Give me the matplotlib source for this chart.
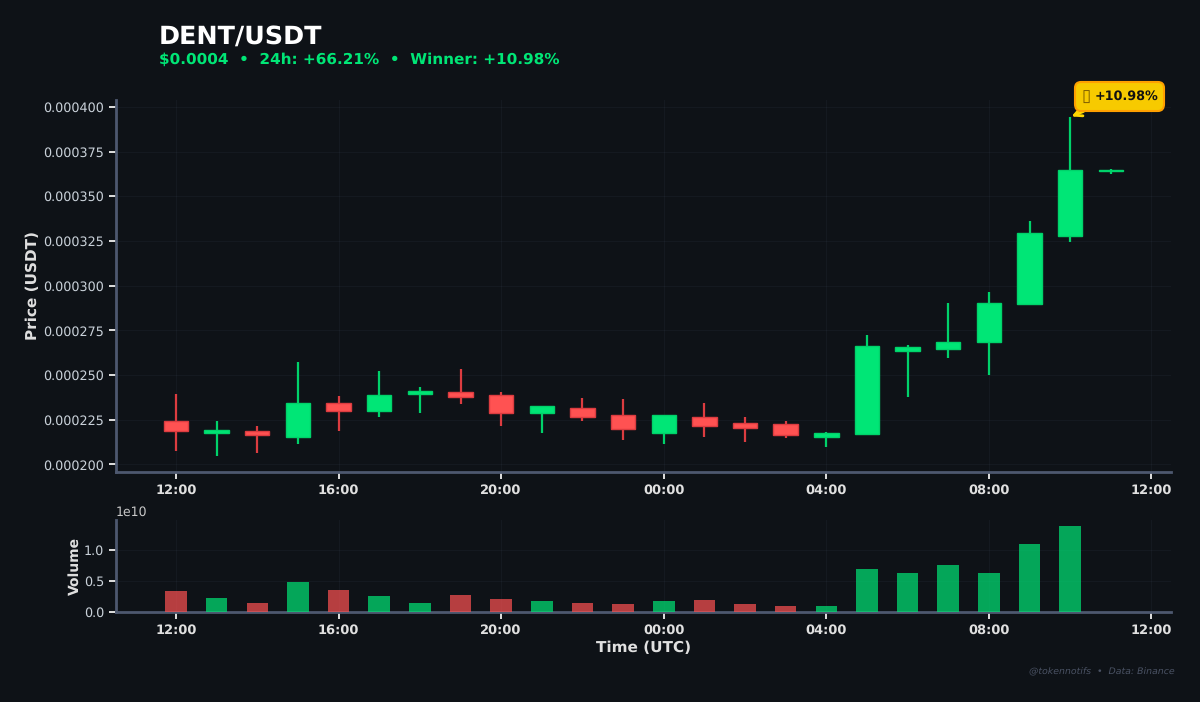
import matplotlib
matplotlib.use('Agg')
import matplotlib.pyplot as plt
from matplotlib.offsetbox import AnnotationBbox, HPacker, TextArea
from matplotlib.patches import Rectangle

plt.rcParams['text.hinting'] = 'no_hinting'

# hours since 12:00
hours = list(range(24))

opens = [224.5, 217.6, 218.6, 215.6, 234.6, 229.8, 239.6, 240.4, 238.7, 228.6, 231.4, 227.5,
         217.6, 226.4, 223.4, 222.5, 215.6, 216.8, 263.5, 264.8, 268.7, 289.6, 327.7, 364.2]
closes = [218.9, 219.5, 216.5, 234.6, 229.8, 238.7, 241.3, 237.8, 228.6, 232.6, 226.7, 219.7,
          227.5, 221.7, 220.6, 216.7, 217.5, 266.5, 265.9, 268.4, 290.3, 329.3, 364.6, 364.6]
highs = [239.4, 224.5, 221.5, 257.5, 238.5, 252.5, 243.5, 253.6, 240.6, 232.7, 237.4, 236.5,
         227.9, 234.6, 226.6, 224.5, 218.3, 272.6, 266.7, 290.5, 296.5, 336.4, 394.4, 365.5]
lows = [207.7, 204.8, 206.6, 211.6, 218.7, 226.7, 228.6, 233.7, 221.5, 217.5, 224.5, 213.7,
        211.6, 215.6, 212.6, 214.7, 209.6, 216.8, 237.8, 259.6, 249.9, 289.6, 324.5, 362.3]
volumes = [0.334, 0.226, 0.14, 0.484, 0.355, 0.26, 0.145, 0.28, 0.21, 0.18, 0.145, 0.135,
           0.185, 0.195, 0.13, 0.095, 0.095, 0.69, 0.63, 0.76, 0.63, 1.1, 1.40, 0.0]

time_ticks = [0, 4, 8, 12, 16, 20, 24]
time_labels = ['12:00', '16:00', '20:00', '00:00', '04:00', '08:00', '12:00']
price_ticks = [0.000200, 0.000225, 0.000250, 0.000275, 0.000300, 0.000325, 0.000350, 0.000375, 0.000400]

BG = '#0e1217'
GREEN = '#00e676'
RED = '#ff5252'
SPINE = '#4d586f'
TEXT = '#e0e0e0'

fig = plt.figure(figsize=(12, 7.02), dpi=100, facecolor=BG)
ax = fig.add_axes([116 / 1200, 230 / 702, 1055 / 1200, 372 / 702], facecolor=BG)
axv = fig.add_axes([116 / 1200, 90 / 702, 1055 / 1200, 92 / 702], facecolor=BG)

# candles
for h, o, c, hi, lo in zip(hours, opens, closes, highs, lows):
    o, c, hi, lo = o * 1e-6, c * 1e-6, hi * 1e-6, lo * 1e-6
    col = GREEN if c >= o else RED
    edge = '#00d26a' if c >= o else '#dc3c40'
    ax.plot([h, h], [lo, hi], color=edge, lw=1.6, solid_capstyle='butt', zorder=3)
    ax.add_patch(Rectangle((h - 0.3, min(o, c)), 0.6, abs(c - o), facecolor=col,
                           edgecolor=edge, lw=1, zorder=4))

# volume
for h, o, c, v in zip(hours, opens, closes, volumes):
    col = GREEN if c >= o else RED
    axv.bar(h, v * 1e10, width=0.53, color=col, alpha=0.7, zorder=3)

ax.set_xlim(-1.476, 24.48)
ax.set_ylim(0.0001958, 0.0004039)
axv.set_xlim(-1.476, 24.48)
axv.set_ylim(0, 1.49e10)

for a in (ax, axv):
    a.grid(True, color='#8fa8c8', alpha=0.05, lw=0.8)
    a.set_axisbelow(True)
    a.spines['top'].set_visible(False)
    a.spines['right'].set_visible(False)
    a.spines['left'].set_color(SPINE)
    a.spines['bottom'].set_color(SPINE)
    a.spines['left'].set_linewidth(2)
    a.spines['bottom'].set_linewidth(2)
    a.set_xticks(time_ticks)
    a.set_xticklabels(time_labels, fontweight='bold', fontsize=9.4)
    a.tick_params(axis='both', color=TEXT, width=1.4, length=5, labelcolor=TEXT)
    a.tick_params(axis='y', labelsize=9.2, labelcolor='#c9d1d9')

ax.set_yticks(price_ticks)
ax.set_yticklabels(['%.6f' % p for p in price_ticks])
axv.set_yticks([0, 0.5e10, 1e10])
axv.yaxis.get_offset_text().set_color('#c8c8c8')
axv.yaxis.get_offset_text().set_fontsize(9)

ax.set_ylabel('Price (USDT)', color=TEXT, fontweight='bold', fontsize=11, labelpad=2.5)
axv.set_ylabel('Volume', color=TEXT, fontweight='bold', fontsize=10, labelpad=2)
axv.set_xlabel('Time (UTC)', color=TEXT, fontweight='bold', fontsize=11, labelpad=3)

# the source image has a missing-glyph box here, U+25AF is the closest real character
glyph = TextArea('\u25AF', textprops=dict(fontsize=12, color='#7a5a00'))
label = TextArea('+10.98%', textprops=dict(fontsize=9.2, fontweight='bold', color='#111111'))
badge = HPacker(children=[glyph, label], align='center', pad=0, sep=3)
ab = AnnotationBbox(badge, (22, highs[22] * 1e-6), xybox=(35.6, 15), boxcoords='offset points',
                    box_alignment=(0.5, 0.5), pad=0.45,
                    bboxprops=dict(boxstyle='round,pad=0.45', facecolor='#f7ca00', edgecolor='#ffa000', lw=1.5),
                    arrowprops=dict(arrowstyle='->', color='#ffd600', lw=2, relpos=(0.25, 0), shrinkA=0, shrinkB=1),
                    zorder=6)
ax.add_artist(ab)

fig.text(159 / 1200, 1 - 36.5 / 702, 'DENT/USDT', color='white', fontsize=18.3, fontweight='bold', va='center')
fig.text(159 / 1200, 1 - 60 / 702, '$0.0004  •  24h: +66.21%  •  Winner: +10.98%', color=GREEN,
         fontsize=10.95, fontweight='bold', va='center')
fig.text(1175 / 1200, 1 - 672 / 702, '@tokennotifs  •  Data: Binance', color='#4a5264',
         fontsize=6.75, style='italic', ha='right', va='center')

fig.savefig('out.png', dpi=100, facecolor=BG)
